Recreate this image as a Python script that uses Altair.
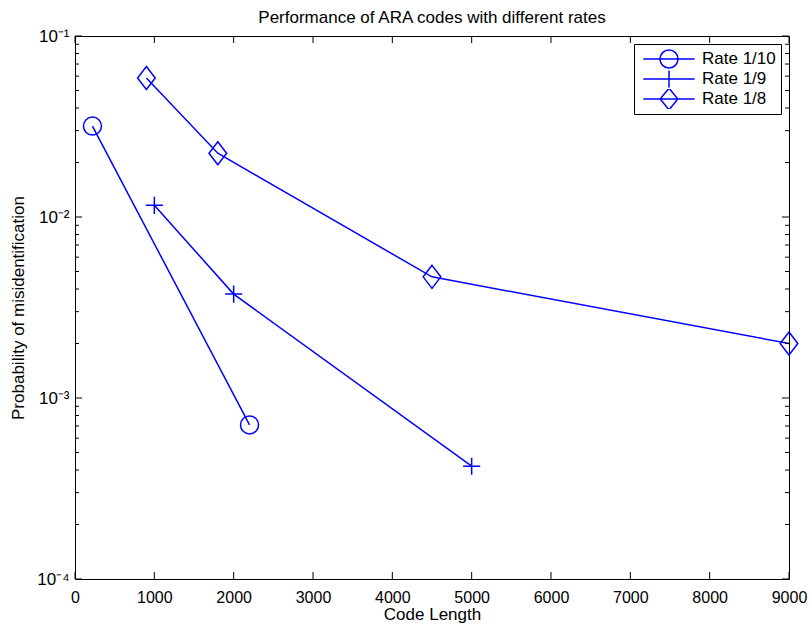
import altair as alt
import pandas as pd

# ---- data ----
series = ["Rate 1/10", "Rate 1/9", "Rate 1/8"]
len_r10 = [220, 2200]
p_r10 = [0.0318, 0.00071]
len_r9 = [1000, 2000, 5000]
p_r9 = [0.0116, 0.00375, 0.00042]
len_r8 = [900, 1800, 4500, 9000]
p_r8 = [0.0586, 0.0225, 0.00467, 0.0020]

x_ticks = [0, 1000, 2000, 3000, 4000, 5000, 6000, 7000, 8000, 9000]
y_major = [1e-4, 1e-3, 1e-2, 1e-1]
y_labels = ["10⁻⁴", "10⁻³", "10⁻²", "10⁻¹"]
y_minor = [2e-4, 3e-4, 4e-4, 5e-4, 6e-4, 7e-4, 8e-4, 9e-4,
           2e-3, 3e-3, 4e-3, 5e-3, 6e-3, 7e-3, 8e-3, 9e-3,
           2e-2, 3e-2, 4e-2, 5e-2, 6e-2, 7e-2, 8e-2, 9e-2]

W, H = 714, 543
BLUE = "#0000ff"
FONT = "Liberation Sans"

rows = []
for name, xs, ps in [(series[0], len_r10, p_r10), (series[1], len_r9, p_r9), (series[2], len_r8, p_r8)]:
    for i, (a, b) in enumerate(zip(xs, ps)):
        rows.append({"series": name, "len": a, "p": b, "idx": i})
df = pd.DataFrame(rows)

marker_paths = [
    "M-1,0A1,1 0 1,0 1,0A1,1 0 1,0 -1,0Z",
    "M-0.95,0L0.95,0M0,-0.95L0,0.95",
    "M0,-1.28L0.98,0L0,1.28L-0.98,0Z",
]
legend_paths = [
    "M-2.85,0L2.85,0M-1,0A1,1 0 1,0 1,0A1,1 0 1,0 -1,0",
    "M-2.85,0L2.85,0M0,-0.95L0,0.95",
    "M-2.85,0L2.85,0M0,-1.2L0.98,0L0,1.2L-0.98,0Z",
]

# label expression for the log axis
expr = "'" + y_labels[0] + "'"
for v, lab in zip(y_major[1:], y_labels[1:]):
    expr = f"datum.value >= {v * 0.5} ? '{lab}' : " + expr

xscale = alt.Scale(domain=[0, 9000], nice=False, zero=False)
yscale = alt.Scale(type="log", domain=[1e-4, 1e-1], nice=False)

x_enc = alt.X("len:Q", scale=xscale,
              axis=alt.Axis(values=x_ticks, format="d", title="Code Length",
                            ticks=False, tickSize=0, domain=False, grid=False,
                            labelPadding=10, labelFlush=False, labelOverlap=False,
                            labelFontSize=16, titleFontSize=17, titleFontWeight="normal",
                            titlePadding=1, labelColor="black", titleColor="black"))
y_enc = alt.Y("p:Q", scale=yscale,
              axis=alt.Axis(values=y_major, labelExpr=expr,
                            title="Probability of misidentification",
                            ticks=False, tickSize=0, domain=False, grid=False,
                            labelPadding=6, labelFlush=False, labelOverlap=False,
                            labelFontSize=17, titleFontSize=17, titleFontWeight="normal",
                            titlePadding=9.5, labelColor="black", titleColor="black"))

lines = alt.Chart(df).mark_line(color=BLUE, strokeWidth=1.5).encode(
    x=x_enc, y=y_enc, detail="series:N", order="idx:Q")

points = alt.Chart(df).mark_point(filled=False, size=324, strokeWidth=1.5,
                                  color=BLUE, opacity=1).encode(
    x=x_enc, y=y_enc,
    shape=alt.Shape("series:N", scale=alt.Scale(domain=series, range=marker_paths),
                    legend=None))

legend_layer = alt.Chart(pd.DataFrame({"series": series})).mark_point(
    filled=False, size=324, strokeWidth=1.5, color=BLUE, opacity=0).encode(
    shape=alt.Shape("series:N", scale=alt.Scale(domain=series, range=legend_paths),
                    legend=alt.Legend(orient="top-right", offset=8, title=None,
                                      padding=5, strokeColor="black", fillColor="white",
                                      cornerRadius=0, symbolSize=324,
                                      symbolStrokeColor=BLUE, symbolFillColor="transparent",
                                      symbolStrokeWidth=1.5, symbolOpacity=1,
                                      symbolOffset=20, labelOffset=23, rowPadding=0,
                                      clipHeight=20,
                                      labelFontSize=17, labelFont=FONT, labelColor="black",
                                      labelLimit=0)))

df_xt = pd.DataFrame({"len": x_ticks})
df_ymaj = pd.DataFrame({"p": y_major})
df_ymin = pd.DataFrame({"p": y_minor})

def yrule(d, x1, x2):
    return alt.Chart(d).mark_rule(color="black", strokeWidth=1).encode(
        y=y_enc, x=alt.value(x1), x2=alt.value(x2))

def xrule(d, y1, y2):
    return alt.Chart(d).mark_rule(color="black", strokeWidth=1).encode(
        x=x_enc, y=alt.value(y1), y2=alt.value(y2))

ticks = [
    yrule(df_ymaj, 0, 7), yrule(df_ymaj, W - 7, W),
    yrule(df_ymin, 0, 4), yrule(df_ymin, W - 4, W),
    xrule(df_xt, H - 7, H), xrule(df_xt, 0, 7),
]

chart = alt.layer(lines, points, legend_layer, *ticks).resolve_scale(
    shape="independent"
).properties(
    width=W, height=H,
    title=alt.Title("Performance of ARA codes with different rates", fontSize=17,
                    fontWeight="normal", offset=0, color="black", anchor="middle"),
    autosize=alt.AutoSizeParams(type="none"),
    padding={"left": 75, "top": 36, "right": 23, "bottom": 48},
).configure(font=FONT).configure_view(stroke="black", strokeWidth=1)

chart.save("out.html", embed_options={"renderer": "svg", "actions": False})
